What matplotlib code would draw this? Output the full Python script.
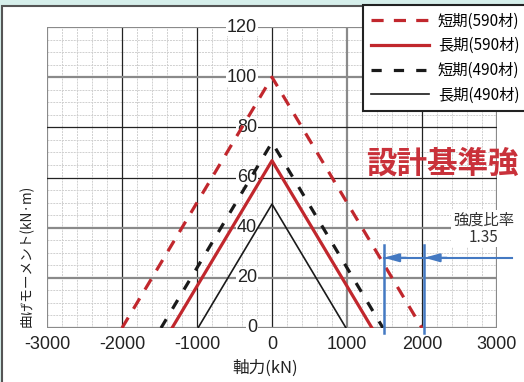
import numpy as np
import matplotlib
matplotlib.use("Agg")
import matplotlib.pyplot as plt
from matplotlib.patches import Rectangle
from matplotlib.lines import Line2D

plt.rcParams['font.family'] = ['Liberation Sans', 'Noto Sans CJK JP', 'DejaVu Sans']
JP = ['Noto Sans CJK JP', 'DejaVu Sans']

# ---- data ----
axial_s590 = [-2000, 0, 2000]
moment_s590 = [0, 100, 0]
axial_l590 = [-1333, 0, 1333]
moment_l590 = [0, 66.7, 0]
axial_s490 = [-1480, 0, 1480]
moment_s490 = [0, 74, 0]
axial_l490 = [-987, 0, 987]
moment_l490 = [0, 49.4, 0]

labels = ['短期(590材)', '長期(590材)', '短期(490材)', '長期(490材)']
x_ticks = [-3000, -2000, -1000, 0, 1000, 2000, 3000]
y_ticks = [0, 20, 40, 60, 80, 100, 120]
ratio_x = [1490, 2030]
ratio_y = 28

RED = '#c1272d'
BLK = '#1a1a1a'
BLUE = '#4479c2'
RED_DASH = (0, (3.8, 3.2))
BLK_DASH = (0, (3.2, 3.8))

fig = plt.figure(figsize=(5.24, 3.82), dpi=100, facecolor='#d6efeb')
fig.patches.append(Rectangle((2 / 524, -0.1), 1.1, 1 - 6 / 382 + 0.1,
                             transform=fig.transFigure, facecolor='white',
                             edgecolor='#555555', lw=1.5, zorder=-5))

ax = fig.add_axes([47 / 524, 1 - 328 / 382, 450 / 524, 301 / 382])
ax.set_facecolor('none')
ax.set_xlim(-3000, 3000)
ax.set_ylim(0, 120)

# minor grid
for xv in np.arange(-3000, 3001, 200):
    ax.axvline(xv, color='#d0d0d0', lw=0.7, ls=(0, (2, 1)), zorder=1)
for yv in np.arange(0, 121, 5):
    ax.axhline(yv, color='#d0d0d0', lw=0.7, ls=(0, (2, 1)), zorder=1)
# major grid
gray_x = [-3000, 1000, 3000]
gray_y = [0, 20, 40, 100, 120]
for xv in x_ticks:
    if xv in gray_x:
        ax.axvline(xv, color='#8a8a8a', lw=1.6, zorder=2)
    else:
        ax.axvline(xv, color='#222222', lw=0.9, zorder=2)
for yv in y_ticks:
    if yv in gray_y:
        ax.axhline(yv, color='#8a8a8a', lw=1.6, zorder=2)
    else:
        ax.axhline(yv, color='#222222', lw=0.9, zorder=2)

for s in ax.spines.values():
    s.set_visible(False)
ax.set_xticks(x_ticks)
ax.set_xticklabels([str(v) for v in x_ticks], fontsize=13, color='#222222')
ax.tick_params(axis='x', length=0, pad=6)
ax.set_yticks([])

for yv in y_ticks:
    ax.text(-200, yv, str(yv), ha='right', va='center', fontsize=13, color='#222222',
            bbox=dict(boxstyle='square,pad=0.05', fc='white', ec='none'), zorder=3)

# curves
ax.plot(axial_s590, moment_s590, color=RED, lw=2.3, ls=RED_DASH, zorder=5)
ax.plot(axial_l590, moment_l590, color=RED, lw=2.3, zorder=5)
ax.plot(axial_s490, moment_s490, color=BLK, lw=2.3, ls=BLK_DASH, zorder=5)
ax.plot(axial_l490, moment_l490, color=BLK, lw=1.2, zorder=5)

# strength ratio marks
for xv in ratio_x:
    ax.plot([xv, xv], [-2, 33], color=BLUE, lw=1.8, clip_on=False, zorder=6)
ax.plot([ratio_x[0], 3200], [ratio_y, ratio_y], color=BLUE, lw=1.5, clip_on=False, zorder=6)
for xv in ratio_x:
    ax.annotate('', xy=(xv, ratio_y), xytext=(xv + 300, ratio_y),
                arrowprops=dict(arrowstyle='-|>,head_length=0.9,head_width=0.25',
                                color=BLUE, lw=1.5, shrinkA=0, shrinkB=0),
                annotation_clip=False, zorder=6)
ax.text(2820, 39.5, '強度比率\n1.35', ha='center', va='center', fontsize=11,
        family=JP, color='#333333', linespacing=1.0,
        bbox=dict(boxstyle='square,pad=0.1', fc='white', ec='none'), zorder=4)

fig.text(366 / 524, 1 - 164 / 382, '設計基準強', ha='left', va='center',
         fontsize=22, fontweight='bold', color='#c9313a', family=JP)

fig.text(265 / 524, 1 - 368 / 382, '軸力(kN)', ha='center', va='center',
         fontsize=12, family=JP, color='#222222')
fig.text(27 / 524, 1 - 256 / 382, '曲げモーメント(kN·m)', ha='center', va='center',
         rotation=90, fontsize=9.8, family=JP, color='#222222')

handles = [
    Line2D([], [], color=RED, lw=2.3, ls=RED_DASH),
    Line2D([], [], color=RED, lw=2.3),
    Line2D([], [], color=BLK, lw=2.3, ls=BLK_DASH),
    Line2D([], [], color=BLK, lw=1.2),
]
leg = fig.legend(handles, labels, loc='upper left',
                 bbox_to_anchor=(363 / 524, 1 - 5 / 382), bbox_transform=fig.transFigure,
                 prop={'family': JP, 'size': 11}, frameon=True, fancybox=False,
                 edgecolor='#222222', framealpha=1, borderaxespad=0,
                 handlelength=3.8, handletextpad=0.6, labelspacing=0.5,
                 borderpad=0.5)
leg.get_frame().set_linewidth(1.5)
leg.set_zorder(10)

fig.savefig('out.png', dpi=100, facecolor=fig.get_facecolor())
